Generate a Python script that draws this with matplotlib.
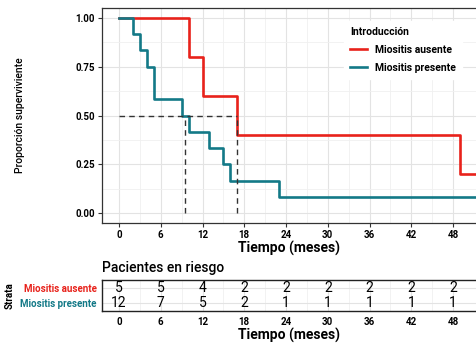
import numpy as np
import matplotlib.pyplot as plt

plt.rcParams['font.family'] = ['Roboto', 'DejaVu Sans']

# Kaplan-Meier steps
t_aus = [0, 10, 12, 17, 49, 51.5]
s_aus = [1.0, 0.8, 0.6, 0.4, 0.2, 0.2]
t_pre = [0, 2, 3, 4, 5, 9, 10, 13, 15, 16, 23, 51.5]
s_pre = [1.0, 0.917, 0.833, 0.75, 0.583, 0.5, 0.417, 0.333, 0.25, 0.167, 0.083, 0.083]
medians = [9.5, 17]

groups = ["Miositis ausente", "Miositis presente"]
colors = ["#E8221B", "#137987"]
risk_times = [0, 6, 12, 18, 24, 30, 36, 42, 48]
risk_aus = [5, 5, 4, 2, 2, 2, 2, 2, 2]
risk_pre = [12, 7, 5, 2, 1, 1, 1, 1, 1]

xlim = (-2.45, 51.45)
grid_major = '#e3e3e3'
grid_minor = '#f0f0f0'

fig = plt.figure(figsize=(4.77, 3.45), dpi=100)
ax = fig.add_axes([0.2138, 0.3536, 0.7862, 0.6232])

ax.step(t_aus, s_aus, where='post', color=colors[0], lw=1.9, label=groups[0], zorder=3)
ax.step(t_pre, s_pre, where='post', color=colors[1], lw=1.9, label=groups[1], zorder=3)

dash = dict(color='#333333', lw=1.0, ls=(0, (4, 3)), zorder=4)
ax.plot([0, max(medians)], [0.5, 0.5], **dash)
for m in medians:
    ax.plot([m, m], [0, 0.5], **dash)

ax.set_xlim(*xlim)
ax.set_ylim(-0.05, 1.05)
ax.set_xticks(risk_times)
ax.set_xticks(np.arange(3, 51, 6), minor=True)
ax.set_yticks([0, 0.25, 0.5, 0.75, 1.0])
ax.set_yticklabels(['0.00', '0.25', '0.50', '0.75', '1.00'])
ax.set_yticks([0.125, 0.375, 0.625, 0.875], minor=True)
ax.grid(which='major', color=grid_major, lw=0.8)
ax.grid(which='minor', color=grid_minor, lw=0.6)
ax.set_axisbelow(True)
ax.tick_params(which='major', labelsize=7, length=3, width=0.8, color='#333333', pad=2)
ax.tick_params(which='minor', length=0)
for lab in ax.get_xticklabels() + ax.get_yticklabels():
    lab.set_fontweight('bold')
for sp in ax.spines.values():
    sp.set_color('#333333')
    sp.set_linewidth(0.9)
ax.set_xlabel("Tiempo (meses)", fontsize=10, fontweight='bold', labelpad=1)
ax.set_ylabel("Proporción superviviente", fontsize=7.5, fontweight='medium', labelpad=36)

leg = ax.legend(title="Introducción", loc='upper right', bbox_to_anchor=(0.975, 0.965),
                frameon=True, fontsize=7.5, title_fontproperties={'weight': 'bold', 'size': 7.5},
                handlelength=1.6, handletextpad=0.8, labelspacing=0.75, borderpad=0.6)
leg.get_frame().set_edgecolor('white')
leg.get_frame().set_facecolor('white')
leg.get_frame().set_alpha(1)
leg._legend_box.align = 'left'
for t in leg.get_texts():
    t.set_fontweight('bold')

# risk table
tab = fig.add_axes([0.2138, 0.0986, 0.7862, 0.0898])
tab.set_xlim(*xlim)
tab.set_ylim(0.4, 2.6)
for i, t in enumerate(risk_times):
    tab.text(t, 2, str(risk_aus[i]), ha='center', va='center', fontsize=10)
    tab.text(t, 1, str(risk_pre[i]), ha='center', va='center', fontsize=10)
tab.set_xticks(risk_times)
tab.set_xticks(np.arange(3, 51, 6), minor=True)
tab.set_yticks([2, 1])
tab.set_yticklabels(groups)
tab.grid(which='major', color=grid_major, lw=0.8)
tab.grid(which='minor', axis='x', color=grid_minor, lw=0.6)
tab.set_axisbelow(True)
tab.tick_params(which='major', labelsize=7, length=0, pad=4)
tab.tick_params(which='minor', length=0)
for lab, c in zip(tab.get_yticklabels(), colors):
    lab.set_color(c)
    lab.set_fontweight('bold')
for lab in tab.get_xticklabels():
    lab.set_fontweight('bold')
for sp in tab.spines.values():
    sp.set_color('#222222')
    sp.set_linewidth(1.0)
tab.set_xlabel("Tiempo (meses)", fontsize=10, fontweight='bold', labelpad=1)
tab.set_ylabel("Strata", fontsize=7, fontweight='bold', labelpad=4)
tab.set_title("Pacientes en riesgo", fontsize=10, fontweight='medium', loc='left', pad=6)

fig.savefig("out.png", dpi=100)
